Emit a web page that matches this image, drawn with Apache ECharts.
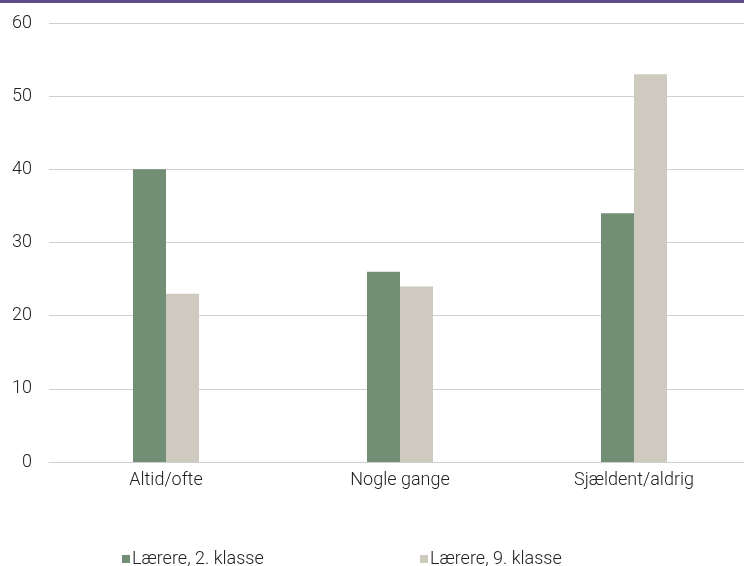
<!DOCTYPE html>
<html><head><meta charset="utf-8">
<script src="https://cdn.jsdelivr.net/npm/echarts@6/dist/echarts.min.js"></script>
<style>html,body{margin:0;padding:0;background:#fff;overflow:hidden}#c{width:751px;height:566px}</style>
</head><body><div id="c"></div>
<script>
const categories = ["Altid/ofte", "Nogle gange", "Sjældent/aldrig"];
const seriesNames = ["Lærere, 2. klasse", "Lærere, 9. klasse"];
const grade2 = [40, 26, 34];
const grade9 = [23, 24, 53];
const colors = ["#728e74", "#cecabf"];
const chart = echarts.init(document.getElementById('c'), null, {renderer: 'canvas'});
const font = "Roboto, 'Noto Sans', sans-serif";
const txt = {fontSize: 18, color: '#222', fontFamily: font, fontWeight: 300};
const legendText = Object.assign({}, txt, {padding: [0,0,0,-3]});
chart.setOption({
  animation: false,
  color: colors,
  graphic: [{type: 'rect', left: 0, top: 0, shape: {width: 751, height: 3}, style: {fill: '#5e4b8b'}}],
  grid: {left: 49, right: 0, top: 23, bottom: 104},
  legend: [
    {top: 545, left: 117, icon: 'rect', itemWidth: 8, itemHeight: 8, textStyle: legendText, data: [seriesNames[0]]},
    {top: 545, left: 415, icon: 'rect', itemWidth: 8, itemHeight: 8, textStyle: legendText, data: [seriesNames[1]]}
  ],
  xAxis: {
    type: 'category', data: categories,
    axisLine: {lineStyle: {color: '#d0d0d0', width: 1}},
    axisTick: {show: false},
    axisLabel: Object.assign({margin: 9}, txt)
  },
  yAxis: {
    type: 'value', min: 0, max: 60, interval: 10,
    axisLine: {show: false}, axisTick: {show: false},
    splitLine: {lineStyle: {color: '#d0d0d0', width: 1}},
    axisLabel: Object.assign({margin: 17}, txt)
  },
  series: [
    {name: seriesNames[0], type: 'bar', data: grade2, barWidth: 33, barGap: '0%'},
    {name: seriesNames[1], type: 'bar', data: grade9, barWidth: 33, barGap: '0%'}
  ]
});
</script></body></html>
